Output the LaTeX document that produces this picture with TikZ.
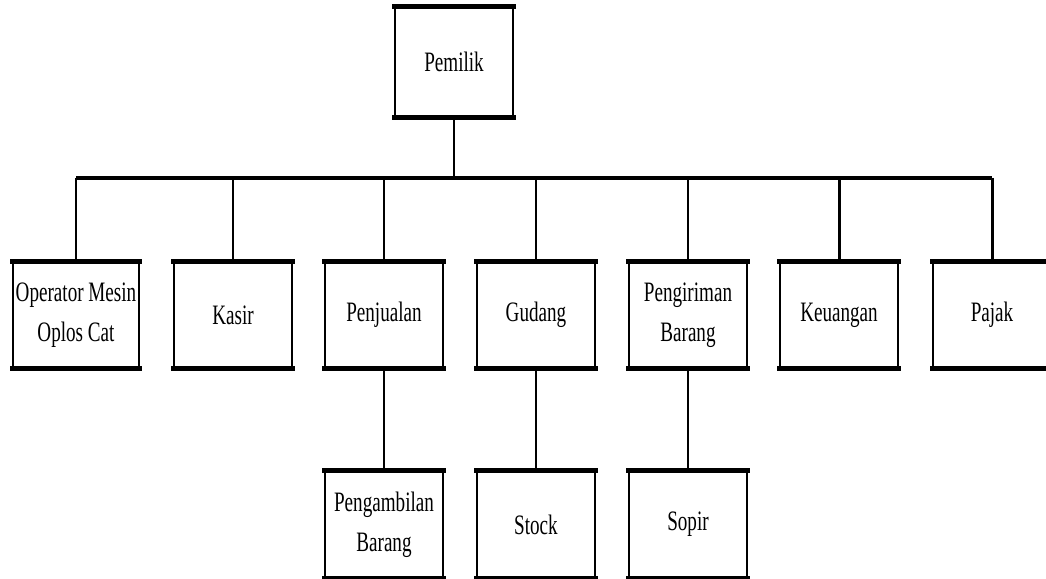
\documentclass[tikz,border=0pt]{standalone}
\usepackage{fontspec}
\setmainfont{Liberation Serif}[FakeStretch=0.68]
\begin{document}
\begin{tikzpicture}[every node/.style={text centered},
  unit/.style={draw, line width=1.6pt, minimum width=2.36cm, minimum height=2.08cm, inner sep=0pt, align=center, font=\fontsize{16}{23}\selectfont},
  link/.style={line width=1.7pt}]

\useasboundingbox (0,0) rectangle (20.92,11.58);

%% top
\node [unit, minimum height=2.16cm] (pemilik) at (9.08,10.34) {Pemilik};

%% second row
\node [unit, minimum width=2.52cm] (operator) at (1.52,5.28) {Operator Mesin\\Oplos Cat};
\node [unit] (kasir) at (4.66,5.28) {Kasir};
\node [unit] (penjualan) at (7.68,5.28) {Penjualan};
\node [unit] (gudang) at (10.72,5.28) {Gudang};
\node [unit] (pengiriman) at (13.76,5.28) {Pengiriman\\Barang};
\node [unit] (keuangan) at (16.78,5.28) {Keuangan};
\node [unit] (pajak) at (19.84,5.28) {Pajak};

%% third row
\node [unit, minimum height=2.1cm] (pengambilan) at (7.68,1.09) {Pengambilan\\Barang};
\node [unit, minimum height=2.1cm] (stock) at (10.72,1.09) {Stock};
\node [unit, minimum height=2.1cm] (sopir) at (13.76,1.09) {Sopir};

%% thick top and bottom edges
\foreach \n in {pemilik,operator,kasir,penjualan,gudang,pengiriman,keuangan,pajak,pengambilan,stock,sopir}{
  \draw [line width=2.8pt, shorten <=-0.8pt, shorten >=-0.8pt] (\n.north west) -- (\n.north east);
  \draw [line width=2.8pt, shorten <=-0.8pt, shorten >=-0.8pt] (\n.south west) -- (\n.south east);
}

%% bus
\coordinate (bus) at (9.08,8.02);
\draw [link] (pemilik.south) -- (bus);
\draw [line width=2.3pt] (operator.north |- bus) -- (pajak.north |- bus);
\foreach \n in {operator,kasir,penjualan,gudang,pengiriman,keuangan,pajak}
  \draw [link] (\n.north |- bus) -- (\n.north);

%% lower links
\draw [link] (penjualan.south) -- (pengambilan.north);
\draw [link] (gudang.south) -- (stock.north);
\draw [link] (pengiriman.south) -- (sopir.north);

\end{tikzpicture}
\end{document}
